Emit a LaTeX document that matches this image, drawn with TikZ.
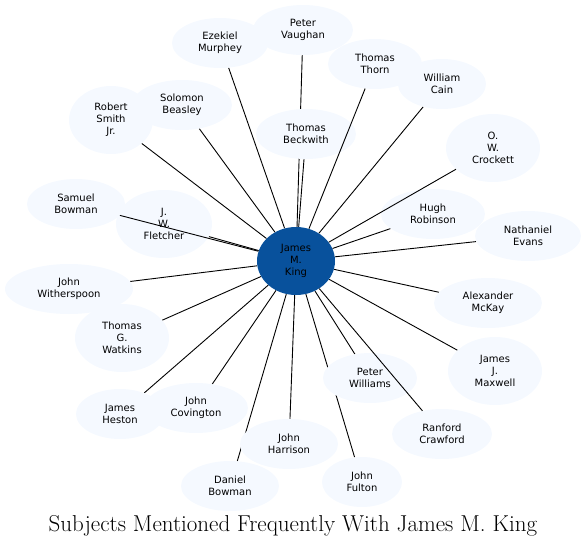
\documentclass[tikz,border=0pt]{standalone}
\usepackage{fontspec}
\newfontfamily\labelfont{DejaVu Sans}
\usetikzlibrary{shapes.geometric, backgrounds}
\definecolor{cKing}{RGB}{8,81,156}
\definecolor{cPeer}{RGB}{245,249,255}

\tikzset{
  peer/.style={ellipse, fill=cPeer, inner sep=0pt, align=center,
    font=\labelfont\fontsize{10}{12}\selectfont, minimum height=50pt},
  tall/.style={minimum height=68pt},
  hub/.style={peer, fill=cKing, minimum width=78pt, minimum height=68pt},
  link/.style={line width=0.9pt}
}

\begin{document}
\begin{tikzpicture}[x=1pt, y=-1pt]
    \useasboundingbox (0,0) rectangle (587,547);

    % Centre
    \node[hub] (king) at (296,261) {James\\M.\\King};

    % Upper half
    \node[peer, minimum width=96pt] (murphey) at (220,43) {Ezekiel\\Murphey};
    \node[peer, minimum width=100pt] (vaughan) at (303,30) {Peter\\Vaughan};
    \node[peer, minimum width=94pt] (thorn) at (375,64) {Thomas\\Thorn};
    \node[peer, minimum width=88pt] (cain) at (442,84) {William\\Cain};
    \node[peer, tall, minimum width=94pt] (crockett) at (493,148) {O.\\W.\\Crockett};
    \node[peer, minimum width=104pt] (robinson) at (433,214) {Hugh\\Robinson};
    \node[peer, minimum width=106pt] (evans) at (528,236) {Nathaniel\\Evans};
    \node[peer, minimum width=100pt] (beckwith) at (306,134) {Thomas\\Beckwith};
    \node[peer, minimum width=100pt] (beasley) at (182,105) {Solomon\\Beasley};
    \node[peer, tall, minimum width=84pt] (smith) at (111,120) {Robert\\Smith\\Jr.};
    \node[peer, minimum width=98pt] (sbowman) at (76,204) {Samuel\\Bowman};
    \node[peer, tall, minimum width=96pt] (fletcher) at (164,224) {J.\\W.\\Fletcher};

    % Lower half
    \node[peer, minimum width=108pt] (mckay) at (488,303) {Alexander\\McKay};
    \node[peer, tall, minimum width=94pt] (maxwell) at (495,371) {James\\J.\\Maxwell};
    \node[peer, minimum width=100pt] (crawford) at (442,434) {Ranford\\Crawford};
    \node[peer, minimum width=80pt] (fulton) at (362,482) {John\\Fulton};
    \node[peer, minimum width=94pt] (williams) at (370,378) {Peter\\Williams};
    \node[peer, minimum width=98pt] (harrison) at (289,444) {John\\Harrison};
    \node[peer, minimum width=98pt] (dbowman) at (230,486) {Daniel\\Bowman};
    \node[peer, minimum width=104pt] (covington) at (196,408) {John\\Covington};
    \node[peer, minimum width=88pt] (heston) at (120,414) {James\\Heston};
    \node[peer, tall, minimum width=94pt] (watkins) at (122,338) {Thomas\\G.\\Watkins};
    \node[peer, minimum width=128pt] (witherspoon) at (69,289) {John\\Witherspoon};

    % Links (under the nodes)
    \begin{scope}[on background layer]
    \draw[link] (king) -- (murphey);
    \draw[link] (king) -- (vaughan);
    \draw[link] (king) -- (cain);
    \draw[link] (king) -- (robinson);
    \draw[link] (king) -- (evans);
    \draw[link] (king) -- (beckwith);
    \draw[link] (king) -- (beasley);
    \draw[link] (king) -- (smith);
    \draw[link] (king) -- (fletcher);
    \draw[link] (king) -- (mckay);
    \draw[link] (king) -- (maxwell);
    \draw[link] (king) -- (fulton);
    \draw[link] (king) -- (williams);
    \draw[link] (king) -- (harrison);
    \draw[link] (king) -- (dbowman);
    \draw[link] (king) -- (covington);
    \draw[link] (king) -- (heston);
    \draw[link] (king) -- (watkins);
    \draw[link] (king) -- (witherspoon);
    \end{scope}

    % Links drawn over other nodes
    \draw[link] (king) -- (thorn);
    \draw[link] (king) -- (crockett);
    \draw[link] (king) -- (sbowman);
    \draw[link] (king) -- (crawford);

    % Title
    \node[anchor=base, font=\fontsize{23}{27}\selectfont] (title) at (293,531)
        {Subjects Mentioned Frequently With James M. King};
\end{tikzpicture}
\end{document}
